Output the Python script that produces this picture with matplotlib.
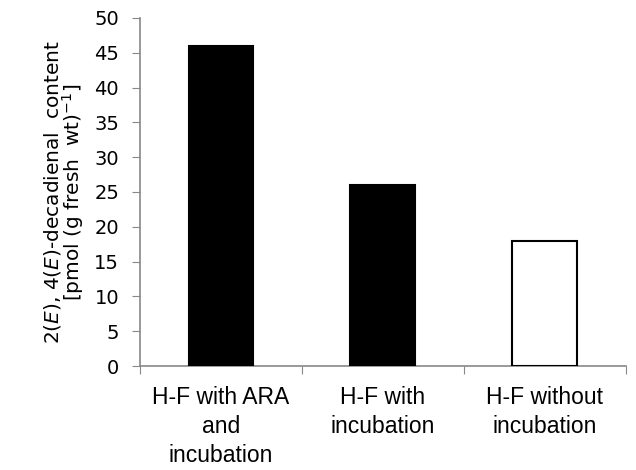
import matplotlib
matplotlib.use("Agg")
import matplotlib.pyplot as plt
import numpy as np

categories = ["H-F with ARA\nand\nincubation", "H-F with\nincubation", "H-F without\nincubation"]
values = [46, 26, 18]
fills = ["black", "black", "white"]
y_ticks = [0, 5, 10, 15, 20, 25, 30, 35, 40, 45, 50]

fig = plt.figure(figsize=(6.36, 4.70), dpi=100)
ax = fig.add_axes([0.220, 0.221, 0.764, 0.741])

x = np.arange(len(categories))
ax.bar(x, values, width=0.4, color=fills, edgecolor="black", linewidth=1.5, zorder=3)

ax.set_xlim(-0.5, len(categories) - 0.5)
ax.set_ylim(0, 50)
ax.set_yticks(y_ticks)
ax.set_yticklabels([str(v) for v in y_ticks], fontsize=14, family="DejaVu Sans")

# category labels between boundary ticks
ax.set_xticks(np.arange(len(categories) + 1) - 0.5)
ax.set_xticklabels([])
ax.set_xticks(x, minor=True)
ax.set_xticklabels(categories, minor=True, fontsize=16.5, family="Liberation Sans", linespacing=1.35)
ax.tick_params(axis="x", which="minor", length=0, pad=14)
ax.tick_params(axis="x", which="major", length=6, color="#888888", direction="out")
ax.tick_params(axis="y", length=6, color="#888888", direction="out", pad=9)

for side in ["top", "right"]:
    ax.spines[side].set_visible(False)
for side in ["left", "bottom"]:
    ax.spines[side].set_color("#888888")
    ax.spines[side].set_linewidth(1.2)

ax.set_ylabel("2($\\it{E}$), 4($\\it{E}$)-decadienal  content\n[pmol (g fresh  wt)$^{-1}$]",
              fontsize=14.5, family="DejaVu Sans", linespacing=0.85, labelpad=6)

fig.savefig("out.png", dpi=100)
